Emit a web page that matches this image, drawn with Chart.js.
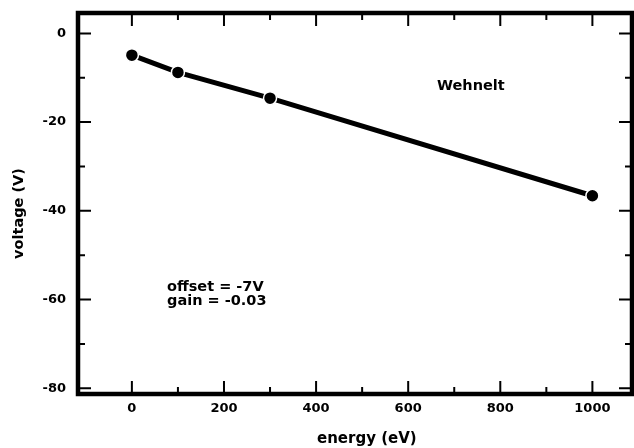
<!DOCTYPE html>
<html>
<head>
<meta charset="utf-8">
<script src="https://cdn.jsdelivr.net/npm/chart.js@4"></script>
<style>
  html, body { margin: 0; padding: 0; background: #fff; }
  #wrap { width: 634px; height: 448px; }
</style>
</head>
<body>
<div id="wrap"><canvas id="myChart" width="634" height="448"></canvas></div>
<script>
// data
const energy = [0, 100, 300, 1000]
const voltage = [-4.9, -8.8, -14.6, -36.6]

const xTicks = [0, 200, 400, 600, 800, 1000]
const xMinor = [100, 300, 500, 700, 900]
const yTicks = [-80, -60, -40, -20, 0]
const yMinor = [-70, -50, -30, -10]

const FONT = 'DejaVu Sans'

// frame, inward ticks, titles and notes
const decor = {
  id: 'decor',
  afterDraw(chart) {
    const { ctx, chartArea: a, scales } = chart
    const x = scales.x, y = scales.y
    ctx.save()
    ctx.strokeStyle = '#000'
    ctx.lineWidth = 2
    ctx.beginPath()
    const xt = (list, len) => list.forEach(v => {
      const px = x.getPixelForValue(v)
      ctx.moveTo(px, a.bottom); ctx.lineTo(px, a.bottom - len)
      ctx.moveTo(px, a.top); ctx.lineTo(px, a.top + len)
    })
    const yt = (list, len) => list.forEach(v => {
      const py = y.getPixelForValue(v)
      ctx.moveTo(a.left, py); ctx.lineTo(a.left + len, py)
      ctx.moveTo(a.right, py); ctx.lineTo(a.right - len, py)
    })
    xt(xTicks, 13); xt(xMinor, 7)
    yt(yTicks, 13); yt(yMinor, 7)
    ctx.stroke()

    ctx.lineWidth = 4.5
    ctx.strokeRect(a.left, a.top, a.right - a.left, a.bottom - a.top)

    ctx.fillStyle = '#000'
    ctx.font = 'bold 14.5px "' + FONT + '"'
    ctx.textBaseline = 'alphabetic'
    ctx.textAlign = 'left'
    ctx.fillText('Wehnelt', 437, 90)
    ctx.fillText('offset = -7V', 167, 291)
    ctx.fillText('gain = -0.03', 167, 304.5)
    ctx.font = 'bold 15px "' + FONT + '"'
    ctx.fillText('energy (eV)', 317, 443)
    ctx.translate(23, 213.5)
    ctx.rotate(-Math.PI / 2)
    ctx.textAlign = 'center'
    ctx.font = 'bold 14.5px "' + FONT + '"'
    ctx.fillText('voltage (V)', 0, 0)
    ctx.restore()
  }
}

const ctx = document.getElementById('myChart').getContext('2d')
const myChart = new Chart(ctx, {
  type: 'scatter',
  data: {
    datasets: [{
      data: energy.map((e, i) => ({ x: e, y: voltage[i] })),
      showLine: true,
      borderColor: '#000',
      borderWidth: 5,
      backgroundColor: '#000',
      pointRadius: 6.5,
      pointBorderColor: '#fff',
      pointBorderWidth: 1.5,
    }]
  },
  options: {
    responsive: false,
    animation: false,
    layout: { autoPadding: false, padding: { top: 13, right: 2, left: 0, bottom: 0 } },
    plugins: { legend: { display: false }, tooltip: { enabled: false } },
    scales: {
      x: {
        type: 'linear',
        min: -117,
        max: 1086,
        afterBuildTicks: (s) => { s.ticks = xTicks.map(v => ({ value: v })) },
        afterFit: (s) => { s.height = 54; s.paddingLeft = 0; s.paddingRight = 0 },
        grid: { display: false },
        border: { display: false },
        ticks: {
          color: '#000', padding: -1, maxRotation: 0,
          callback: (v) => String(v),
          font: { family: FONT, weight: 'bold', size: 13 }
        },
      },
      y: {
        min: -81.3,
        max: 4.6,
        afterBuildTicks: (s) => { s.ticks = yTicks.map(v => ({ value: v })) },
        afterFit: (s) => { s.width = 78; s.paddingTop = 0; s.paddingBottom = 0 },
        grid: { display: false },
        border: { display: false },
        ticks: { color: '#000', padding: 4, font: { family: FONT, weight: 'bold', size: 13 } },
      }
    }
  },
  plugins: [decor]
})
</script>
</body>
</html>
